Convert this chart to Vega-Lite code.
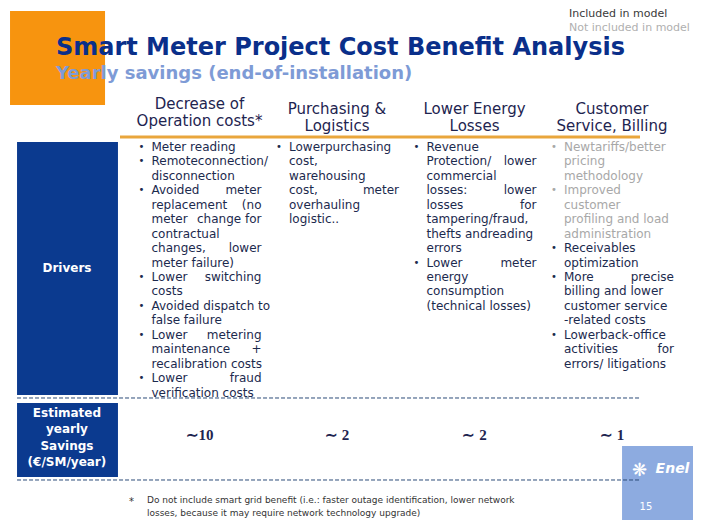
{
  "$schema": "https://vega.github.io/schema/vega-lite/v6.json",
  "width": 706,
  "height": 529,
  "autosize": "none",
  "padding": 0,
  "background": "white",
  "config": {"view": {"stroke": null}, "text": {"font": "DejaVu Sans"}},
  "datasets": {
    "sections": [
      {"section": "Drivers", "text": "Drivers", "top": 0.654, "bottom": 18.166, "first": 9.375},
      {"section": "Savings", "text": "Estimated|yearly|Savings|(€/SM/year)", "top": 18.72, "bottom": 23.84, "first": 19.41}
    ],
    "headers": [
      {"col": 1, "line": -1.976, "text": "Decrease of|Operation costs*"},
      {"col": 2, "line": -1.63, "text": "Purchasing &|Logistics"},
      {"col": 3, "line": -1.63, "text": "Lower Energy|Losses"},
      {"col": 4, "line": -1.63, "text": "Customer|Service, Billing"}
    ],
    "savings": [
      {"col": 1, "value": "∼10"},
      {"col": 2, "value": "∼ 2"},
      {"col": 3, "value": "∼ 2"},
      {"col": 4, "value": "∼ 1"}
    ],
    "body": [
      {"col": 1, "line": 1, "part": "left", "bullet": true, "status": "Included in model", "text": "Meter reading"},
      {"col": 1, "line": 2, "part": "left", "bullet": true, "status": "Included in model", "text": "Remoteconnection/"},
      {"col": 1, "line": 3, "part": "left", "bullet": false, "status": "Included in model", "text": "disconnection"},
      {"col": 1, "line": 4, "part": "left", "bullet": true, "status": "Included in model", "text": "Avoided"},
      {"col": 1, "line": 4, "part": "right", "bullet": false, "status": "Included in model", "text": "meter"},
      {"col": 1, "line": 5, "part": "left", "bullet": false, "status": "Included in model", "text": "replacement"},
      {"col": 1, "line": 5, "part": "right", "bullet": false, "status": "Included in model", "text": "(no"},
      {"col": 1, "line": 6, "part": "left", "bullet": false, "status": "Included in model", "text": "meter"},
      {"col": 1, "line": 6, "part": "right", "bullet": false, "status": "Included in model", "text": "change  for"},
      {"col": 1, "line": 7, "part": "left", "bullet": false, "status": "Included in model", "text": "contractual"},
      {"col": 1, "line": 8, "part": "left", "bullet": false, "status": "Included in model", "text": "changes,"},
      {"col": 1, "line": 8, "part": "right", "bullet": false, "status": "Included in model", "text": "lower"},
      {"col": 1, "line": 9, "part": "left", "bullet": false, "status": "Included in model", "text": "meter failure)"},
      {"col": 1, "line": 10, "part": "left", "bullet": true, "status": "Included in model", "text": "Lower"},
      {"col": 1, "line": 10, "part": "right", "bullet": false, "status": "Included in model", "text": "switching"},
      {"col": 1, "line": 11, "part": "left", "bullet": false, "status": "Included in model", "text": "costs"},
      {"col": 1, "line": 12, "part": "left", "bullet": true, "status": "Included in model", "text": "Avoided dispatch to"},
      {"col": 1, "line": 13, "part": "left", "bullet": false, "status": "Included in model", "text": "false failure"},
      {"col": 1, "line": 14, "part": "left", "bullet": true, "status": "Included in model", "text": "Lower"},
      {"col": 1, "line": 14, "part": "right", "bullet": false, "status": "Included in model", "text": "metering"},
      {"col": 1, "line": 15, "part": "left", "bullet": false, "status": "Included in model", "text": "maintenance"},
      {"col": 1, "line": 15, "part": "right", "bullet": false, "status": "Included in model", "text": "+"},
      {"col": 1, "line": 16, "part": "left", "bullet": false, "status": "Included in model", "text": "recalibration costs"},
      {"col": 1, "line": 17, "part": "left", "bullet": true, "status": "Included in model", "text": "Lower"},
      {"col": 1, "line": 17, "part": "right", "bullet": false, "status": "Included in model", "text": "fraud"},
      {"col": 1, "line": 18, "part": "left", "bullet": false, "status": "Included in model", "text": "verification costs"},
      {"col": 2, "line": 1, "part": "left", "bullet": true, "status": "Included in model", "text": "Lowerpurchasing"},
      {"col": 2, "line": 2, "part": "left", "bullet": false, "status": "Included in model", "text": "cost,"},
      {"col": 2, "line": 3, "part": "left", "bullet": false, "status": "Included in model", "text": "warehousing"},
      {"col": 2, "line": 4, "part": "left", "bullet": false, "status": "Included in model", "text": "cost,"},
      {"col": 2, "line": 4, "part": "right", "bullet": false, "status": "Included in model", "text": "meter"},
      {"col": 2, "line": 5, "part": "left", "bullet": false, "status": "Included in model", "text": "overhauling"},
      {"col": 2, "line": 6, "part": "left", "bullet": false, "status": "Included in model", "text": "logistic.."},
      {"col": 3, "line": 1, "part": "left", "bullet": true, "status": "Included in model", "text": "Revenue"},
      {"col": 3, "line": 2, "part": "left", "bullet": false, "status": "Included in model", "text": "Protection/"},
      {"col": 3, "line": 2, "part": "right", "bullet": false, "status": "Included in model", "text": "lower"},
      {"col": 3, "line": 3, "part": "left", "bullet": false, "status": "Included in model", "text": "commercial"},
      {"col": 3, "line": 4, "part": "left", "bullet": false, "status": "Included in model", "text": "losses:"},
      {"col": 3, "line": 4, "part": "right", "bullet": false, "status": "Included in model", "text": "lower"},
      {"col": 3, "line": 5, "part": "left", "bullet": false, "status": "Included in model", "text": "losses"},
      {"col": 3, "line": 5, "part": "right", "bullet": false, "status": "Included in model", "text": "for"},
      {"col": 3, "line": 6, "part": "left", "bullet": false, "status": "Included in model", "text": "tampering/fraud,"},
      {"col": 3, "line": 7, "part": "left", "bullet": false, "status": "Included in model", "text": "thefts andreading"},
      {"col": 3, "line": 8, "part": "left", "bullet": false, "status": "Included in model", "text": "errors"},
      {"col": 3, "line": 9, "part": "left", "bullet": true, "status": "Included in model", "text": "Lower"},
      {"col": 3, "line": 9, "part": "right", "bullet": false, "status": "Included in model", "text": "meter"},
      {"col": 3, "line": 10, "part": "left", "bullet": false, "status": "Included in model", "text": "energy"},
      {"col": 3, "line": 11, "part": "left", "bullet": false, "status": "Included in model", "text": "consumption"},
      {"col": 3, "line": 12, "part": "left", "bullet": false, "status": "Included in model", "text": "(technical losses)"},
      {"col": 4, "line": 1, "part": "left", "bullet": true, "status": "Not included in model", "text": "Newtariffs/better"},
      {"col": 4, "line": 2, "part": "left", "bullet": false, "status": "Not included in model", "text": "pricing"},
      {"col": 4, "line": 3, "part": "left", "bullet": false, "status": "Not included in model", "text": "methodology"},
      {"col": 4, "line": 4, "part": "left", "bullet": true, "status": "Not included in model", "text": "Improved"},
      {"col": 4, "line": 5, "part": "left", "bullet": false, "status": "Not included in model", "text": "customer"},
      {"col": 4, "line": 6, "part": "left", "bullet": false, "status": "Not included in model", "text": "profiling and load"},
      {"col": 4, "line": 7, "part": "left", "bullet": false, "status": "Not included in model", "text": "administration"},
      {"col": 4, "line": 8, "part": "left", "bullet": true, "status": "Included in model", "text": "Receivables"},
      {"col": 4, "line": 9, "part": "left", "bullet": false, "status": "Included in model", "text": "optimization"},
      {"col": 4, "line": 10, "part": "left", "bullet": true, "status": "Included in model", "text": "More"},
      {"col": 4, "line": 10, "part": "right", "bullet": false, "status": "Included in model", "text": "precise"},
      {"col": 4, "line": 11, "part": "left", "bullet": false, "status": "Included in model", "text": "billing and lower"},
      {"col": 4, "line": 12, "part": "left", "bullet": false, "status": "Included in model", "text": "customer service"},
      {"col": 4, "line": 13, "part": "left", "bullet": false, "status": "Included in model", "text": "-related costs"},
      {"col": 4, "line": 14, "part": "left", "bullet": true, "status": "Included in model", "text": "Lowerback-office"},
      {"col": 4, "line": 15, "part": "left", "bullet": false, "status": "Included in model", "text": "activities"},
      {"col": 4, "line": 15, "part": "right", "bullet": false, "status": "Included in model", "text": "for"},
      {"col": 4, "line": 16, "part": "left", "bullet": false, "status": "Included in model", "text": "errors/ litigations"}
    ],
    "dividers": [{"line": 18.374}, {"line": 24.05}]
  },
  "layer": [
    {
      "data": {"values": [{"item": "accent"}]},
      "mark": {"type": "rect", "color": "#F7940F"},
      "encoding": {
        "x": {"datum": -0.378, "type": "quantitative", "scale": {"domain": [-0.4509, 4.6836], "nice": false, "zero": false}, "axis": null},
        "x2": {"datum": 0.313},
        "y": {"datum": -8.414, "type": "quantitative", "scale": {"domain": [-9.175, 27.442], "nice": false, "zero": false, "reverse": true}, "axis": null},
        "y2": {"datum": -1.907}
      }
    },
    {
      "data": {"name": "sections"},
      "mark": {"type": "rect", "color": "#0B3A8F"},
      "encoding": {
        "x": {"datum": -0.327, "type": "quantitative", "scale": {"domain": [-0.4509, 4.6836], "nice": false, "zero": false}, "axis": null},
        "x2": {"datum": 0.407},
        "y": {"field": "top", "type": "quantitative", "scale": {"domain": [-9.175, 27.442], "nice": false, "zero": false, "reverse": true}, "axis": null},
        "y2": {"field": "bottom"}
      }
    },
    {
      "data": {"name": "sections"},
      "mark": {"type": "text", "color": "white", "fontWeight": "bold", "fontSize": 12, "align": "center", "baseline": "middle", "lineBreak": "|", "lineHeight": 16.3},
      "encoding": {
        "x": {"datum": 0.036, "type": "quantitative", "scale": {"domain": [-0.4509, 4.6836], "nice": false, "zero": false}, "axis": null},
        "y": {"field": "first", "type": "quantitative", "scale": {"domain": [-9.175, 27.442], "nice": false, "zero": false, "reverse": true}, "axis": null},
        "text": {"field": "text"}
      }
    },
    {
      "data": {"values": [{"item": "logo"}]},
      "mark": {"type": "rect", "color": "#8DABE0"},
      "encoding": {
        "x": {"datum": 4.073, "type": "quantitative", "scale": {"domain": [-0.4509, 4.6836], "nice": false, "zero": false}, "axis": null},
        "x2": {"datum": 4.589},
        "y": {"datum": 21.7, "type": "quantitative", "scale": {"domain": [-9.175, 27.442], "nice": false, "zero": false, "reverse": true}, "axis": null},
        "y2": {"datum": 26.82}
      }
    },
    {
      "data": {"values": [{"item": "header rule"}]},
      "mark": {"type": "rule", "color": "#E9A63C", "strokeWidth": 3},
      "encoding": {
        "x": {"datum": 0.4218, "type": "quantitative", "scale": {"domain": [-0.4509, 4.6836], "nice": false, "zero": false}, "axis": null},
        "x2": {"datum": 4.2036},
        "y": {"datum": 0.308, "type": "quantitative", "scale": {"domain": [-9.175, 27.442], "nice": false, "zero": false, "reverse": true}, "axis": null}
      }
    },
    {
      "data": {"name": "dividers"},
      "mark": {"type": "rule", "color": "#2B4A78", "strokeWidth": 1, "strokeDash": [4, 2]},
      "encoding": {
        "x": {"datum": -0.327, "type": "quantitative", "scale": {"domain": [-0.4509, 4.6836], "nice": false, "zero": false}, "axis": null},
        "x2": {"datum": 4.2036},
        "y": {"field": "line", "type": "quantitative", "scale": {"domain": [-9.175, 27.442], "nice": false, "zero": false, "reverse": true}, "axis": null}
      }
    },
    {
      "data": {"values": [{"text": "Smart Meter Project Cost Benefit Analysis"}]},
      "mark": {"type": "text", "color": "#0A2F8A", "fontWeight": "bold", "fontSize": 24, "align": "left", "baseline": "middle"},
      "encoding": {
        "x": {"datum": -0.044, "type": "quantitative", "scale": {"domain": [-0.4509, 4.6836], "nice": false, "zero": false}, "axis": null},
        "y": {"datum": -5.853, "type": "quantitative", "scale": {"domain": [-9.175, 27.442], "nice": false, "zero": false, "reverse": true}, "axis": null},
        "text": {"field": "text"}
      }
    },
    {
      "data": {"values": [{"text": "Yearly savings (end-of-installation)"}]},
      "mark": {"type": "text", "color": "#7E9BD6", "fontWeight": "bold", "fontSize": 18, "align": "left", "baseline": "middle"},
      "encoding": {
        "x": {"datum": -0.044, "type": "quantitative", "scale": {"domain": [-0.4509, 4.6836], "nice": false, "zero": false}, "axis": null},
        "y": {"datum": -4.053, "type": "quantitative", "scale": {"domain": [-9.175, 27.442], "nice": false, "zero": false, "reverse": true}, "axis": null},
        "text": {"field": "text"}
      }
    },
    {
      "data": {"name": "headers"},
      "mark": {"type": "text", "color": "#1E2450", "fontSize": 15, "align": "center", "baseline": "middle", "lineBreak": "|", "lineHeight": 17},
      "encoding": {
        "x": {"field": "col", "type": "quantitative", "scale": {"domain": [-0.4509, 4.6836], "nice": false, "zero": false}, "axis": null},
        "y": {"field": "line", "type": "quantitative", "scale": {"domain": [-9.175, 27.442], "nice": false, "zero": false, "reverse": true}, "axis": null},
        "text": {"field": "text"}
      }
    },
    {
      "data": {"name": "body"},
      "transform": [{"filter": "datum.part === 'left'"}],
      "mark": {"type": "text", "fontSize": 12, "align": "left", "baseline": "middle", "dx": -48},
      "encoding": {
        "x": {"field": "col", "type": "quantitative", "scale": {"domain": [-0.4509, 4.6836], "nice": false, "zero": false}, "axis": null},
        "y": {"field": "line", "type": "quantitative", "scale": {"domain": [-9.175, 27.442], "nice": false, "zero": false, "reverse": true}, "axis": null},
        "text": {"field": "text"},
        "color": {
          "field": "status", "type": "nominal",
          "scale": {"domain": ["Included in model", "Not included in model"], "range": ["#1C2A4E", "#A8A8A8"]},
          "legend": {
            "title": null, "orient": "none", "legendX": 558, "legendY": 8,
            "symbolSize": 0, "symbolOpacity": 0, "symbolStrokeWidth": 0,
            "labelFont": "DejaVu Sans", "labelFontSize": 11, "labelOffset": 0, "rowPadding": 2,
            "encode": {"labels": {"update": {"fill": {"signal": "datum.value === 'Included in model' ? '#3A3A3A' : '#B0B0B0'"}}}}
          }
        }
      }
    },
    {
      "data": {"name": "body"},
      "transform": [{"filter": "datum.part === 'right'"}],
      "mark": {"type": "text", "fontSize": 12, "align": "right", "baseline": "middle", "dx": 62},
      "encoding": {
        "x": {"field": "col", "type": "quantitative", "scale": {"domain": [-0.4509, 4.6836], "nice": false, "zero": false}, "axis": null},
        "y": {"field": "line", "type": "quantitative", "scale": {"domain": [-9.175, 27.442], "nice": false, "zero": false, "reverse": true}, "axis": null},
        "text": {"field": "text"},
        "color": {"field": "status", "type": "nominal", "scale": {"domain": ["Included in model", "Not included in model"], "range": ["#1C2A4E", "#A8A8A8"]}, "legend": null}
      }
    },
    {
      "data": {"name": "body"},
      "transform": [{"filter": "datum.bullet"}],
      "mark": {"type": "text", "fontSize": 10, "align": "left", "baseline": "middle", "dx": -61, "text": "•"},
      "encoding": {
        "x": {"field": "col", "type": "quantitative", "scale": {"domain": [-0.4509, 4.6836], "nice": false, "zero": false}, "axis": null},
        "y": {"field": "line", "type": "quantitative", "scale": {"domain": [-9.175, 27.442], "nice": false, "zero": false, "reverse": true}, "axis": null},
        "color": {"field": "status", "type": "nominal", "scale": {"domain": ["Included in model", "Not included in model"], "range": ["#1C2A4E", "#A8A8A8"]}, "legend": null}
      }
    },
    {
      "data": {"name": "savings"},
      "mark": {"type": "text", "color": "#1E2450", "font": "Liberation Serif", "fontWeight": "bold", "fontSize": 15, "align": "center", "baseline": "middle"},
      "encoding": {
        "x": {"field": "col", "type": "quantitative", "scale": {"domain": [-0.4509, 4.6836], "nice": false, "zero": false}, "axis": null},
        "y": {"datum": 20.935, "type": "quantitative", "scale": {"domain": [-9.175, 27.442], "nice": false, "zero": false, "reverse": true}, "axis": null},
        "text": {"field": "value"}
      }
    },
    {
      "data": {"values": [{"text": "*"}]},
      "mark": {"type": "text", "color": "#333333", "fontSize": 10, "align": "left", "baseline": "middle"},
      "encoding": {
        "x": {"datum": 0.487, "type": "quantitative", "scale": {"domain": [-0.4509, 4.6836], "nice": false, "zero": false}, "axis": null},
        "y": {"datum": 25.6, "type": "quantitative", "scale": {"domain": [-9.175, 27.442], "nice": false, "zero": false, "reverse": true}, "axis": null},
        "text": {"field": "text"}
      }
    },
    {
      "data": {"values": [{"text": "Do not include smart grid benefit (i.e.: faster outage identification, lower network|losses, because it may require network technology upgrade)"}]},
      "mark": {"type": "text", "color": "#333333", "fontSize": 9, "align": "left", "baseline": "middle", "lineBreak": "|", "lineHeight": 13},
      "encoding": {
        "x": {"datum": 0.618, "type": "quantitative", "scale": {"domain": [-0.4509, 4.6836], "nice": false, "zero": false}, "axis": null},
        "y": {"datum": 25.434, "type": "quantitative", "scale": {"domain": [-9.175, 27.442], "nice": false, "zero": false, "reverse": true}, "axis": null},
        "text": {"field": "text"}
      }
    },
    {
      "data": {"values": [{"text": "Enel"}]},
      "mark": {"type": "text", "color": "white", "fontSize": 14, "fontWeight": "bold", "fontStyle": "italic", "align": "center", "baseline": "middle"},
      "encoding": {
        "x": {"datum": 4.44, "type": "quantitative", "scale": {"domain": [-0.4509, 4.6836], "nice": false, "zero": false}, "axis": null},
        "y": {"datum": 23.29, "type": "quantitative", "scale": {"domain": [-9.175, 27.442], "nice": false, "zero": false, "reverse": true}, "axis": null},
        "text": {"field": "text"}
      }
    },
    {
      "data": {"values": [{"text": "❋"}]},
      "mark": {"type": "text", "color": "white", "fontSize": 18, "align": "center", "baseline": "middle"},
      "encoding": {
        "x": {"datum": 4.2, "type": "quantitative", "scale": {"domain": [-0.4509, 4.6836], "nice": false, "zero": false}, "axis": null},
        "y": {"datum": 23.4, "type": "quantitative", "scale": {"domain": [-9.175, 27.442], "nice": false, "zero": false, "reverse": true}, "axis": null},
        "text": {"field": "text"}
      }
    },
    {
      "data": {"values": [{"text": "15"}]},
      "mark": {"type": "text", "color": "white", "fontSize": 10, "align": "center", "baseline": "middle"},
      "encoding": {
        "x": {"datum": 4.247, "type": "quantitative", "scale": {"domain": [-0.4509, 4.6836], "nice": false, "zero": false}, "axis": null},
        "y": {"datum": 25.92, "type": "quantitative", "scale": {"domain": [-9.175, 27.442], "nice": false, "zero": false, "reverse": true}, "axis": null},
        "text": {"field": "text"}
      }
    }
  ]
}
